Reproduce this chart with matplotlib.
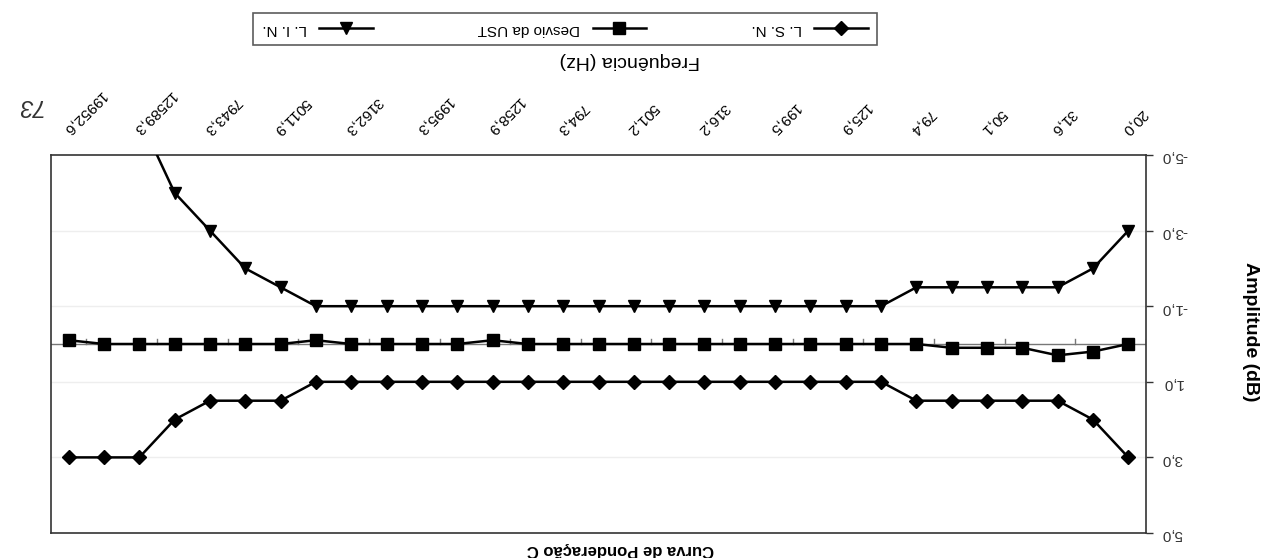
import numpy as np
import matplotlib
matplotlib.use('Agg')
import matplotlib.pyplot as plt
import matplotlib.transforms as mtransforms
from matplotlib.ticker import FuncFormatter

plt.rcParams['font.family'] = ['Liberation Sans', 'DejaVu Sans']

#%% Data (1/3 octave bands, C weighting tolerances):

freq_labels = ['20,0', '25,1', '31,6', '39,8', '50,1', '63,1', '79,4', '100,0',
               '125,9', '158,5', '199,5', '251,2', '316,2', '398,1', '501,2',
               '631,0', '794,3', '1000,0', '1258,9', '1584,9', '1995,3',
               '2511,9', '3162,3', '3981,1', '5011,9', '6309,6', '7943,3',
               '10000,0', '12589,3', '15848,9', '19952,6']

lsn = [3.0, 2.0, 1.5, 1.5, 1.5, 1.5, 1.5,
       1.0, 1.0, 1.0, 1.0, 1.0, 1.0, 1.0, 1.0, 1.0, 1.0, 1.0, 1.0, 1.0, 1.0,
       1.0, 1.0, 1.0,
       1.5, 1.5, 1.5, 2.0, 3.0, 3.0, 3.0]

desvio = [0.0, 0.2, 0.3, 0.1, 0.1, 0.1,
          0.0, 0.0, 0.0, 0.0, 0.0, 0.0, 0.0, 0.0, 0.0, 0.0, 0.0, 0.0,
          -0.1, 0.0, 0.0, 0.0, 0.0, -0.1,
          0.0, 0.0, 0.0, 0.0, 0.0, 0.0, -0.1]

lin = [-3.0, -2.0, -1.5, -1.5, -1.5, -1.5, -1.5,
       -1.0, -1.0, -1.0, -1.0, -1.0, -1.0, -1.0, -1.0, -1.0, -1.0, -1.0,
       -1.0, -1.0, -1.0, -1.0, -1.0, -1.0,
       -1.5, -2.0, -3.0, -4.0, -6.0, np.nan, np.nan]

y_ticks = [-5, -3, -1, 1, 3, 5]

#%% Figure (the scanned page is upside down, so everything is turned 180 deg):

W, H = 1267, 558
fig = plt.figure(figsize=(W/100, H/100), dpi=100)
ax = fig.add_axes([51/W, 1 - 533/H, (1146 - 51)/W, (533 - 155)/H])

x = np.arange(len(freq_labels))

ax.plot(x, lsn, color='black', lw=1.8, marker='D', ms=7, label='L. S. N.',
        zorder=3)
ax.plot(x, desvio, color='black', lw=1.8, marker='s', ms=9,
        label='Desvio da UST', zorder=3)
ax.plot(x, lin, color='black', lw=1.8, marker='v', ms=9, label='L. I. N.',
        zorder=3)

ax.set_xlim(len(x) - 0.5, -0.5)
ax.set_ylim(5, -5)

# value axis (right side after turning)
ax.yaxis.tick_right()
ax.set_yticks(y_ticks)
ax.yaxis.set_major_formatter(FuncFormatter(lambda v, p: f'{v:.1f}'.replace('.', ',')))
ax.tick_params(axis='y', direction='out', length=5, width=1, labelsize=11,
               labelrotation=180, pad=6, colors='#333333')
for yv in [-3, -1, 1, 3]:
    ax.axhline(yv, color='#eeeeee', lw=1, zorder=0)

# category axis crossing at zero
ax.axhline(0, color='#777777', lw=1, zorder=1)
for xb in np.arange(-0.5, len(x), 2):
    ax.plot([xb, xb], [0, -0.13], color='#777777', lw=1, zorder=1)

# category labels (top after turning)
ax.xaxis.tick_top()
ax.set_xticks(x[::2])
ax.set_xticklabels(freq_labels[::2])
ax.tick_params(axis='x', length=0, labelsize=11, labelrotation=225, pad=13)
shift = mtransforms.ScaledTranslation(-7/72, 0, fig.dpi_scale_trans)
for lab in ax.get_xticklabels():
    lab.set_ha('left')
    lab.set_va('bottom')
    lab.set_transform(lab.get_transform() + shift)

for s in ax.spines.values():
    s.set_color('#333333')
    s.set_linewidth(1.2)

fig.text(630/W, 1 - 60/H, 'Frequência (Hz)', rotation=180, ha='center',
         va='center', fontsize=14)
fig.text(620/W, 1 - 550/H, 'Curva de Ponderação C', rotation=180,
         ha='center', va='center', fontsize=12, fontweight='bold')
fig.text(1250/W, 1 - 332/H, 'Amplitude (dB)', rotation=270, ha='center',
         va='center', fontsize=14, fontweight='bold')
fig.text(28/W, 1 - 105/H, '73', rotation=180, ha='center', va='center',
         fontsize=17, fontstyle='italic', color='#333333')

h, l = ax.get_legend_handles_labels()
leg = fig.legend(h[::-1], l[::-1], loc='center', ncol=3, markerfirst=False,
                 bbox_to_anchor=(565/W, 1 - 29/H), frameon=True,
                 fancybox=False, edgecolor='#333333', fontsize=11,
                 handlelength=3.5, columnspacing=6.9, borderpad=0.6)
leg.get_frame().set_linewidth(1.2)
for t in leg.get_texts():
    t.set_rotation(180)

fig.savefig('out.png', dpi=100)
